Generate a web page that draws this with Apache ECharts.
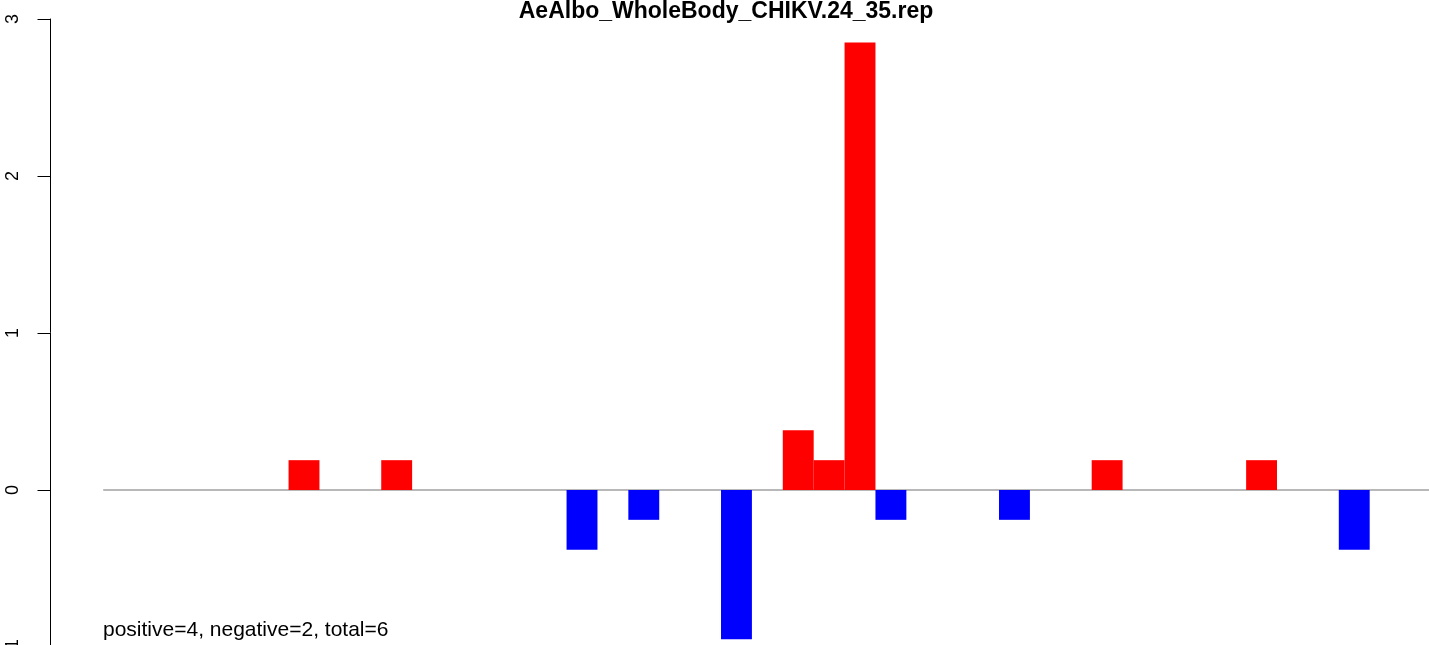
<!DOCTYPE html>
<html>
<head>
<meta charset="utf-8">
<script src="https://cdn.jsdelivr.net/npm/echarts@6/dist/echarts.min.js"></script>
<style>
html,body{margin:0;padding:0;background:#fff;}
#chart{width:1429px;height:645px;}
</style>
</head>
<body>
<div id="chart"></div>
<script>
// Data
const titleText = "AeAlbo_WholeBody_CHIKV.24_35.rep";
const summaryText = "positive=4, negative=2, total=6";
const slots = [6, 9, 15, 17, 20, 22, 23, 24, 25, 29, 32, 37, 40];
const values = [0.19, 0.19, -0.38, -0.19, -0.95, 0.38, 0.19, 2.85, -0.19, -0.19, 0.19, 0.19, -0.38];
const yTicks = [-1, 0, 1, 2, 3];

const xMin = -1.707, xMax = 42.92;
const chart = echarts.init(document.getElementById('chart'), null, {renderer: 'canvas'});
const font = '"Liberation Sans", Arial, sans-serif';

chart.setOption({
  animation: false,
  backgroundColor: '#ffffff',
  title: {
    text: titleText,
    left: 721, top: -5, textAlign: 'center',
    textStyle: {fontFamily: font, fontWeight: 'bold', fontSize: 23, color: '#000'}
  },
  grid: {left: 50.5, top: 19, width: 1378.5, height: 628, outerBoundsMode: 'none'},
  xAxis: {
    type: 'value', min: xMin, max: xMax, show: false
  },
  yAxis: {
    type: 'value', min: yTicks[0], max: yTicks[yTicks.length - 1], interval: 1,
    axisLine: {show: true, onZero: false, lineStyle: {color: '#000', width: 1}},
    axisTick: {show: true, length: 13, lineStyle: {color: '#000', width: 1}},
    splitLine: {show: false},
    axisLabel: {rotate: 90, margin: 28, fontFamily: font, fontSize: 18, color: '#000'}
  },
  graphic: [{
    type: 'text', left: 103, top: 620,
    style: {text: summaryText, font: '21px ' + font, fill: '#000'}
  }],
  series: [
    {
      type: 'line', silent: true, symbol: 'none',
      data: [[0, 0], [xMax, 0]],
      lineStyle: {color: '#a0a0a0', width: 1.5},
      z: 1
    },
    {
      type: 'bar',
      barWidth: 30.9,
      data: slots.map((s, i) => [s + 0.5, values[i]]),
      itemStyle: {color: p => p.value[1] >= 0 ? '#ff0000' : '#0000ff'},
      z: 2
    }
  ]
});
</script>
</body>
</html>
